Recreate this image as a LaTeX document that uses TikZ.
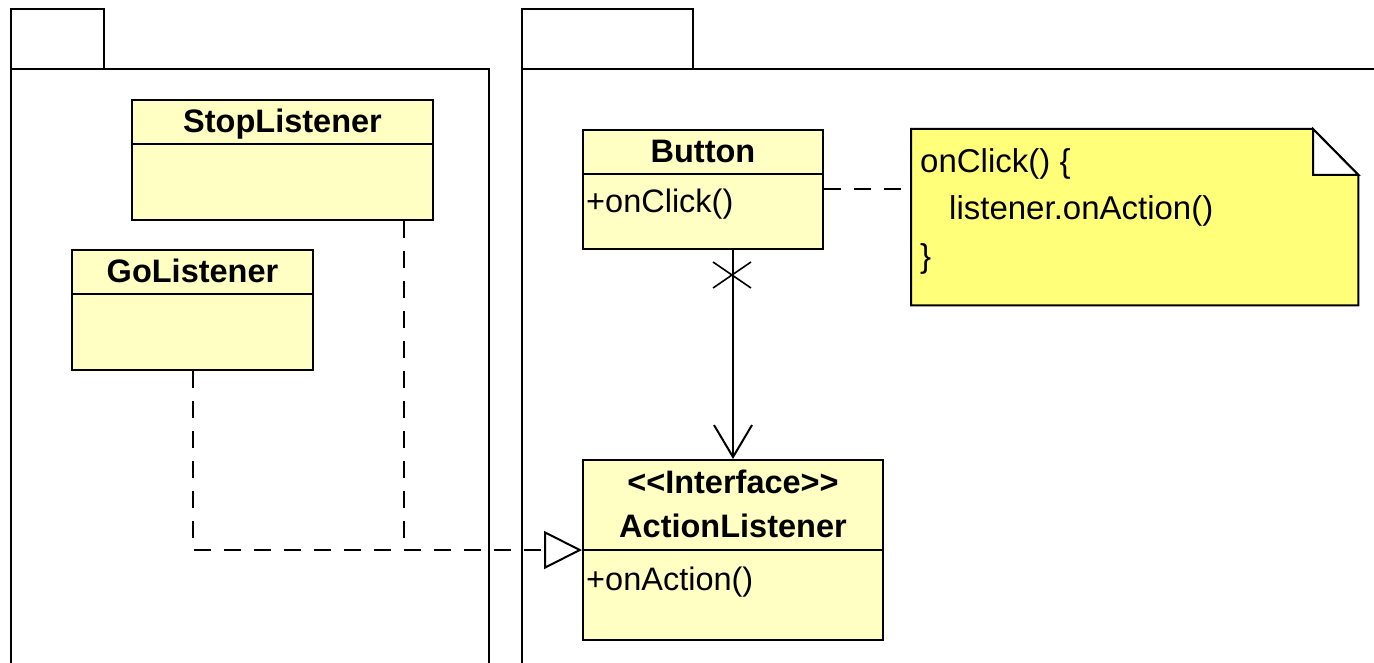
\documentclass[tikz,border=0pt]{standalone}
\usepackage{fontspec}
\setmainfont{Liberation Sans}[Ligatures=TeXOff]
\usetikzlibrary{arrows.meta,calc}
\definecolor{classfill}{RGB}{255,255,196}
\definecolor{notefill}{RGB}{255,255,122}
\begin{document}
\begin{tikzpicture}[x=1pt,y=-1pt,
  outline/.style={draw=black,line width=2pt},
  classbox/.style={outline,fill=classfill,inner sep=0pt,anchor=north west},
  titletext/.style={font=\fontsize{32.5}{38}\selectfont\bfseries,inner sep=0pt,anchor=base},
  membertext/.style={font=\fontsize{32.5}{38}\selectfont,inner sep=0pt,anchor=base west},
  notetext/.style={font=\fontsize{33}{38}\selectfont,inner sep=0pt,anchor=base west},
  dashline/.style={line width=2pt,dash pattern=on 17pt off 13pt},
]
\useasboundingbox (0,0) rectangle (1374,663);
\clip (0,0) rectangle (1374,663);

% packages
\draw[outline] (11,9) rectangle (104,69);
\draw[outline] (11,700) -- (11,69) -- (489,69) -- (489,700);
\draw[outline] (522,9) rectangle (693,69);
\draw[outline] (522,700) -- (522,69) -- (1400,69);

% StopListener
\node[classbox,minimum width=301pt,minimum height=120pt] (stop) at (131,99) {};
\draw[outline] (stop.west |- 0,144) -- (stop.east |- 0,144);
\node[titletext] (stoptitle) at (stop.north |- 0,133) {StopListener};

% GoListener
\node[classbox,minimum width=241pt,minimum height=120pt] (go) at (71,249) {};
\draw[outline] (go.west |- 0,294) -- (go.east |- 0,294);
\node[titletext] (gotitle) at (go.north |- 0,283) {GoListener};

% Button
\node[classbox,minimum width=240pt,minimum height=119pt] (button) at (582,129) {};
\draw[outline] (button.west |- 0,174) -- (button.east |- 0,174);
\node[titletext] (buttontitle) at (button.north |- 0,163) {Button};
\node[membertext] (onclick) at (586,213) {+onClick()};

% ActionListener
\node[classbox,minimum width=300pt,minimum height=180pt] (action) at (582,459) {};
\draw[outline] (action.west) -- (action.east);
\node[titletext] (stereo) at (action.north |- 0,493) {<<Interface>>};
\node[titletext] (actiontitle) at (action.north |- 0,537) {ActionListener};
\node[membertext] (onaction) at (586,590) {+onAction()};

% note with folded corner
\node[inner sep=0pt,minimum width=447pt,minimum height=176pt,anchor=north west] (note) at (911,129) {};
\coordinate (foldA) at (1313,129);
\coordinate (foldB) at (note.east |- 0,175);
\filldraw[outline,fill=notefill,line join=miter] (note.north west) -- (foldA) -- (foldB) -- (note.south east) -- (note.south west) -- cycle;
\filldraw[outline,fill=white] (foldA) -- (foldA |- foldB) -- (foldB) -- cycle;
\node[notetext] (line1) at (920,173) {onClick() \{};
\node[notetext] (line2) at (949,220) {listener.onAction()};
\node[notetext] (line3) at (920,268) {\}};

% note anchor
\draw[dashline] (button.east) -- (note.west |- button.east);

% navigable association from Button to ActionListener
\coordinate (cross) at (732,275);
\draw[line width=2pt,-{Straight Barb[length=32pt,width=38pt]}] (action.north |- button.south) -- (action.north);
\draw[line width=1.6pt] ($(cross)+(-19,-13)$) -- ($(cross)+(19,13)$);
\draw[line width=1.6pt] ($(cross)+(-19,13)$) -- ($(cross)+(19,-13)$);

% realizations
\coordinate (stopfoot) at ($(stop.south west)!0.9!(stop.south east)$);
\draw[dashline,-{Triangle[open,length=38pt,width=38pt,line width=2pt]}] (go.south) |- (action.west);
\draw[dashline] (stopfoot) -- (stopfoot |- action.west);
\end{tikzpicture}
\end{document}
